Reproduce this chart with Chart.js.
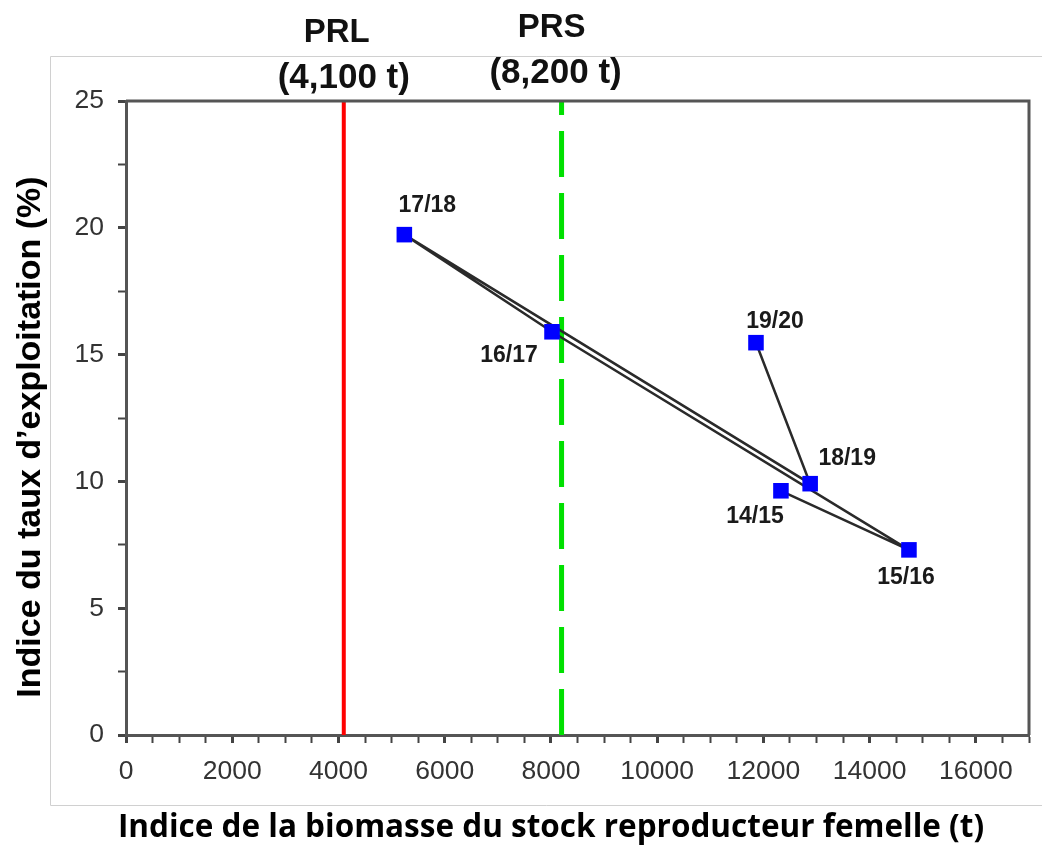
<!DOCTYPE html>
<html>
<head>
<meta charset="utf-8">
<script src="https://cdn.jsdelivr.net/npm/chart.js@4.4.1/dist/chart.umd.min.js"></script>
<style>
  html, body { margin: 0; padding: 0; background: #ffffff; }
  #wrap { width: 1042px; height: 845px; position: relative; }
</style>
</head>
<body>
<div id="wrap"><canvas id="c" width="1042" height="845"></canvas></div>
<script>
// Fishing seasons, female spawning stock biomass index (t) and exploitation rate index (%)
const seasons = ['14/15', '15/16', '16/17', '17/18', '18/19', '19/20'];
const biomass = [12330, 14740, 8020, 5240, 12880, 11860];
const exploitation = [9.63, 7.30, 15.90, 19.73, 9.91, 15.47];

// Reference points: limit (PRL) and upper stock reference (PRS)
const refNames = ['PRL', 'PRS'];
const refValues = [4100, 8200];
const refTexts = ['(4,100 t)', '(8,200 t)'];

// Axis tick labels
const xTickLabels = [0, 2000, 4000, 6000, 8000, 10000, 12000, 14000, 16000];
const yTickLabels = [0, 5, 10, 15, 20, 25];

const xTitle = 'Indice de la biomasse du stock reproducteur femelle (t)';
const yTitle = 'Indice du taux d\u2019exploitation (%)';

// Label placement around each season marker (dx, dy in px)
const labelOffsets = {
  '14/15': [-26, 26], '15/16': [-3, 28], '16/17': [-43, 24],
  '17/18': [23, -29], '18/19': [37, -25], '19/20': [19, -21]
};

const seriesPoints = seasons.map((s, i) => ({ x: biomass[i], y: exploitation[i] }));
const refColors = ['#ff0000', '#00e000'];
const refDatasets = refValues.map((v, i) => ({
  label: refNames[i],
  data: [{ x: v, y: 0 }, { x: v, y: 25 }],
  showLine: true,
  borderColor: refColors[i],
  borderWidth: i === 0 ? 4 : 5,
  borderDash: i === 0 ? [] : [46, 16],
  pointRadius: 0,
  pointHoverRadius: 0
}));

const decorations = {
  id: 'decorations',
  afterDraw(chart) {
    const { ctx, chartArea: a, scales: { x, y } } = chart;
    ctx.save();
    // outer light frame
    ctx.strokeStyle = '#d0d0d0';
    ctx.lineWidth = 1;
    ctx.beginPath();
    ctx.moveTo(1042, 56.5); ctx.lineTo(50.5, 56.5); ctx.lineTo(50.5, 805.5); ctx.lineTo(1042, 805.5);
    ctx.stroke();
    // top and right sides of plot box
    ctx.strokeStyle = '#555555';
    ctx.lineWidth = 3;
    ctx.beginPath();
    ctx.moveTo(a.left, a.top); ctx.lineTo(a.right, a.top); ctx.lineTo(a.right, a.bottom);
    ctx.stroke();

    // season labels
    ctx.fillStyle = '#1a1a1a';
    ctx.font = 'bold 23px "Liberation Sans", Arial, sans-serif';
    ctx.textAlign = 'center';
    ctx.textBaseline = 'middle';
    seasons.forEach((s, i) => {
      const px = x.getPixelForValue(biomass[i]);
      const py = y.getPixelForValue(exploitation[i]);
      const [dx, dy] = labelOffsets[s];
      ctx.fillText(s, px + dx, py + dy);
    });

    // reference point captions above the plot
    ctx.fillStyle = '#111111';
    const nameY = [33, 28], valY = [78, 73];
    const nameDx = [-7, -10], valDx = [0, -6];
    refValues.forEach((v, i) => {
      const px = x.getPixelForValue(v);
      ctx.font = 'bold 33px "Liberation Sans", Arial, sans-serif';
      ctx.fillText(refNames[i], px + nameDx[i], nameY[i]);
      ctx.font = 'bold 35px "Liberation Sans", Arial, sans-serif';
      ctx.fillText(refTexts[i], px + valDx[i], valY[i]);
    });

    // axis titles
    ctx.fillStyle = '#000000';
    ctx.font = 'bold 31.5px "Open Sans", sans-serif';
    ctx.fillText(xTitle, 551, 828);
    ctx.translate(31, 437);
    ctx.rotate(-Math.PI / 2);
    ctx.font = 'bold 34px "Liberation Sans", Arial, sans-serif';
    ctx.fillText(yTitle, 0, 0);
    ctx.restore();
  }
};

new Chart(document.getElementById('c'), {
  type: 'scatter',
  data: {
    datasets: [
      {
        label: 'Saisons',
        data: seriesPoints,
        showLine: true,
        borderColor: '#2a2a2a',
        borderWidth: 2.5,
        pointStyle: 'rect',
        pointRadius: 11,
        pointHoverRadius: 11,
        pointBackgroundColor: '#0000ff',
        pointBorderColor: '#0000ff',
        pointBorderWidth: 0
      },
      ...refDatasets
    ]
  },
  options: {
    responsive: false,
    animation: false,
    devicePixelRatio: 1,
    layout: { padding: { top: 101, right: 11, left: 0, bottom: 0 } },
    plugins: { legend: { display: false }, tooltip: { enabled: false } },
    scales: {
      x: {
        type: 'linear',
        min: 0, max: 17000,
        afterFit(s) { s.height = 110; },
        border: { color: '#555555', width: 3 },
        grid: { drawOnChartArea: false, tickLength: 8, tickColor: '#444444',
                tickWidth: c => (xTickLabels.includes(c.tick.value) ? 3 : 2) },
        ticks: {
          stepSize: 500, autoSkip: false, maxRotation: 0, padding: 13,
          color: '#333333',
          font: { family: '"Liberation Sans", Arial, sans-serif', size: 26.5 },
          callback: v => (xTickLabels.includes(v) ? String(v) : '')
        }
      },
      y: {
        type: 'linear',
        min: 0, max: 25,
        afterFit(s) { s.width = 126; },
        border: { color: '#555555', width: 3 },
        grid: { drawOnChartArea: false, tickLength: 8, tickColor: '#444444',
                tickWidth: c => (yTickLabels.includes(c.tick.value) ? 3 : 2) },
        ticks: {
          stepSize: 2.5, autoSkip: false, padding: 14,
          color: '#333333',
          font: { family: '"Liberation Sans", Arial, sans-serif', size: 26.5 },
          callback: v => (yTickLabels.includes(v) ? String(v) : '')
        }
      }
    }
  },
  plugins: [decorations]
});
</script>
</body>
</html>
